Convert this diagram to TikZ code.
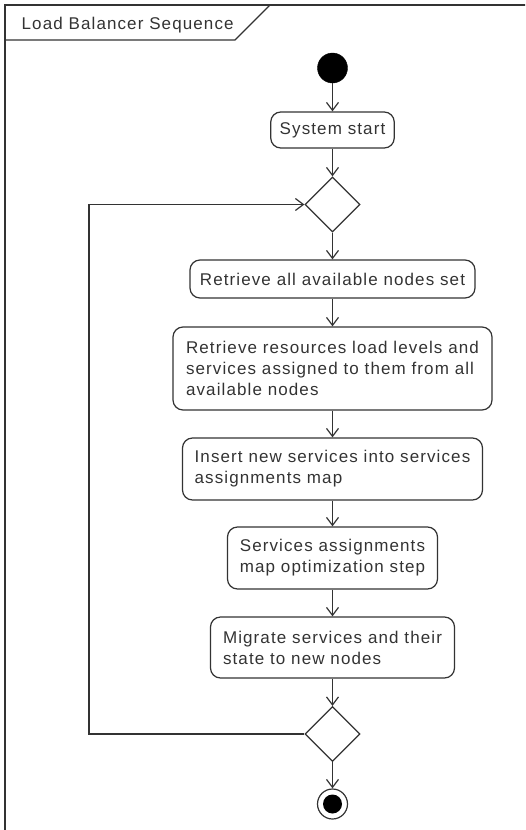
\documentclass[tikz,border=0pt]{standalone}
\usepackage{fontspec}
\setmainfont{Liberation Sans}[LetterSpace=6.5]
\usetikzlibrary{arrows.meta,shapes.geometric}
\definecolor{ink}{HTML}{333333}
\tikzset{
  ln/.style={draw=ink, line width=1.2pt},
  arr/.style={ln, -{Straight Barb[length=8pt,width=12pt]}},
  act/.style={ln, rectangle, rounded corners=10pt, align=left, inner xsep=9pt, inner ysep=0pt,
    text=ink, font=\fontsize{17}{21}\selectfont},
  dec/.style={ln, diamond, minimum width=55pt, minimum height=55pt, inner sep=0pt},
}
\begin{document}
\begin{tikzpicture}[x=1pt,y=-1pt]
\useasboundingbox (0,0) rectangle (525,830);
\clip (0,0) rectangle (525,830);
% frame
\draw[ln, line width=1.5pt] (5,840) -- (5,5) -- (530,5);
\draw[ln] (5,40) -- (235,40) -- (270,5);
\node[anchor=base west, inner sep=0pt, text=ink, font=\fontsize{17}{21}\selectfont] (title) at (21.5,29.5) {Load Balancer Sequence};
% nodes
\node[circle, fill=black, draw=black, minimum size=30pt, inner sep=0pt] (init) at (332.5,68) {};
\node[act, minimum width=121pt, minimum height=36pt] (start) at (332.5,130) {System start};
\node[dec] (d1) at (332.5,204.5) {};
\node[act, minimum width=285pt, minimum height=38pt] (b1) at (332.5,279) {Retrieve all available nodes set};
\node[act, minimum width=319pt, minimum height=83pt] (b2) at (332.5,368.5) {Retrieve resources load levels and\\services assigned to them from all\\available nodes};
\node[act, minimum width=300pt, minimum height=62pt] (b3) at (332.5,469) {Insert new services into services\\assignments map};
\node[act, minimum width=210pt, minimum height=62pt] (b4) at (332.5,558) {Services assignments\\map optimization step};
\node[act, minimum width=244pt, minimum height=61pt] (b5) at (332.5,647.5) {Migrate services and their\\state to new nodes};
\node[dec] (d2) at (332.5,734) {};
\node[circle, ln, fill=white, minimum size=30pt, inner sep=0pt] (fin) at (332.5,804) {};
\node[circle, fill=black, minimum size=19pt, inner sep=0pt] (finin) at (fin.center) {};
% connectors
\draw[arr] (init) -- (start);
\draw[arr] (start) -- (d1);
\draw[arr] (d1) -- (b1);
\draw[arr] (b1) -- (b2);
\draw[arr] (b2) -- (b3);
\draw[arr] (b3) -- (b4);
\draw[arr] (b4) -- (b5);
\draw[arr] (b5) -- (d2);
\draw[arr] (d2) -- (fin);
\coordinate (lb) at (89,734);
\coordinate (lt) at (89,204.5);
\draw[arr] (d2.west) -- (lb) -- (lt) -- (d1.west);
\end{tikzpicture}
\end{document}
